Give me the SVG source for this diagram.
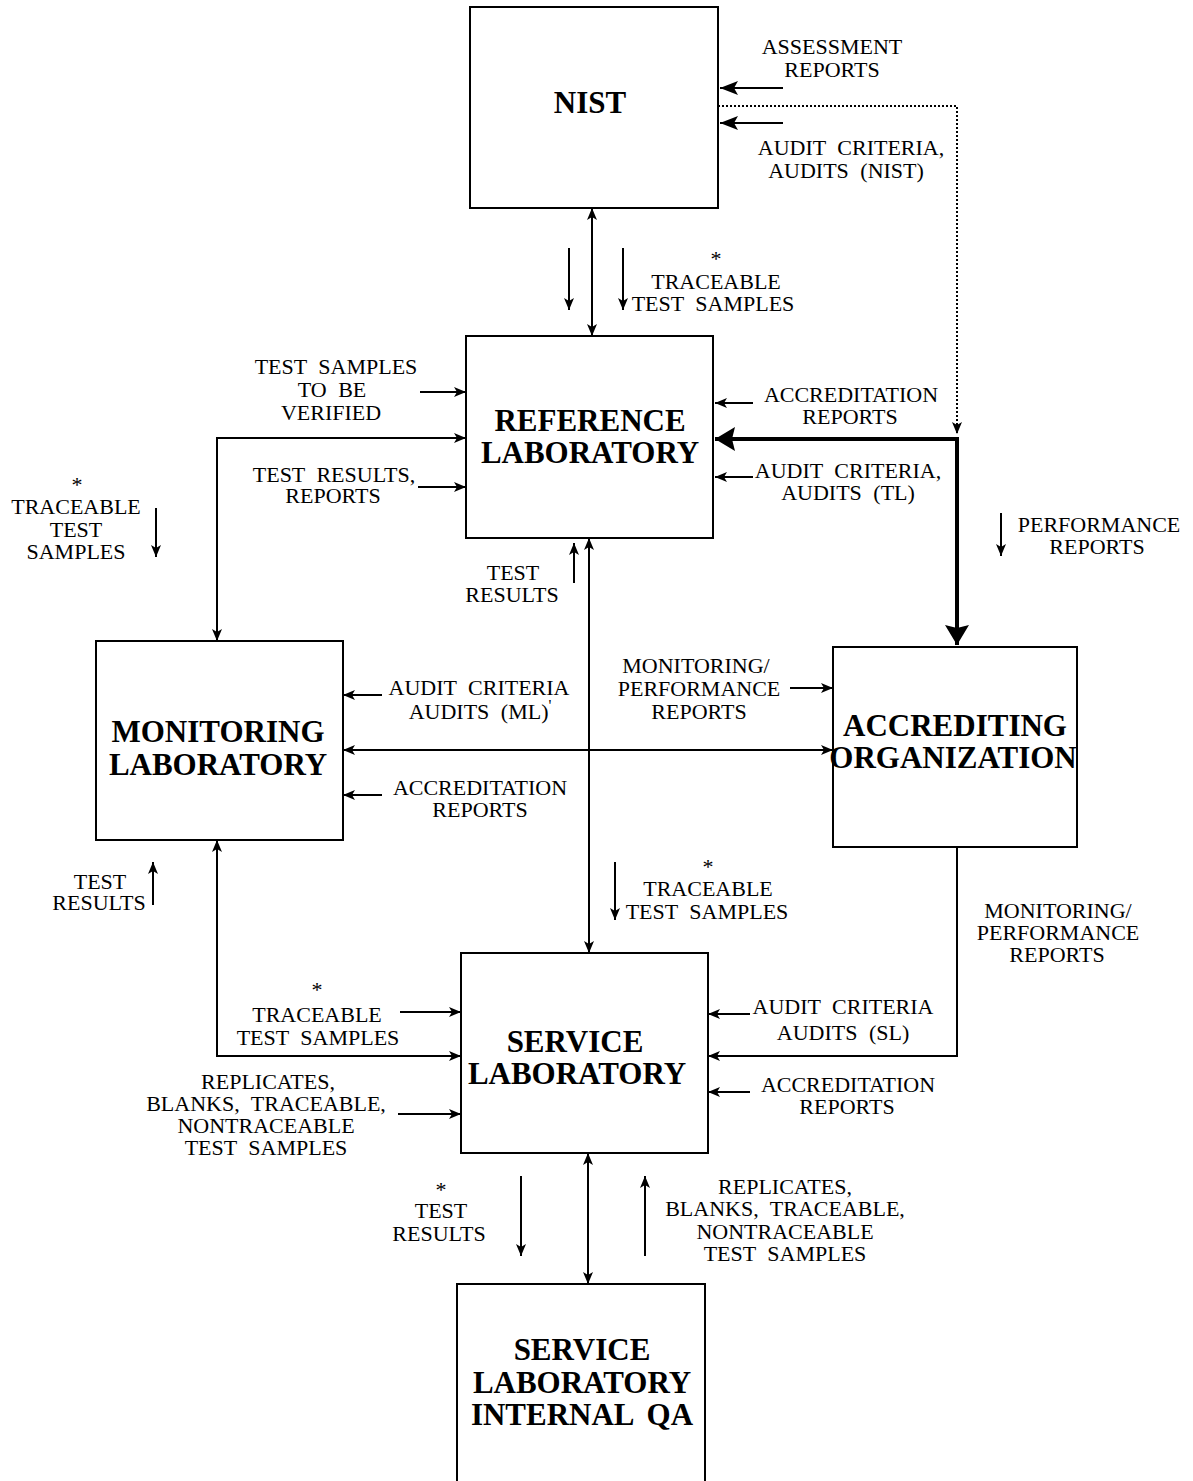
<svg xmlns="http://www.w3.org/2000/svg" width="1193" height="1481" viewBox="0 0 1193 1481">
<style>
.box{fill:#fff;stroke:#000;stroke-width:2}
.ln{fill:none;stroke:#000;stroke-width:2}
.thk{fill:none;stroke:#000;stroke-width:4}
.dot{fill:none;stroke:#000;stroke-width:2;stroke-dasharray:2 2}
.t{font-family:"Liberation Serif","Times New Roman",serif;font-size:22px;text-anchor:middle;word-spacing:6px;fill:#000}
.n{font-family:"Liberation Serif","Times New Roman",serif;font-size:31px;font-weight:bold;text-anchor:middle;fill:#000}
</style>
<defs>
<marker id="a" viewBox="0 0 12 10" refX="12" refY="5" markerWidth="12" markerHeight="10" markerUnits="userSpaceOnUse" orient="auto-start-reverse"><path d="M0,0 L12,5 L0,10 L3,5 Z" fill="#000"/></marker>
<marker id="b" viewBox="0 0 18 14" refX="18" refY="7" markerWidth="18" markerHeight="14" markerUnits="userSpaceOnUse" orient="auto-start-reverse"><path d="M0,0 L18,7 L0,14 L4,7 Z" fill="#000"/></marker>
<marker id="c" viewBox="0 0 20 24" refX="20" refY="12" markerWidth="20" markerHeight="24" markerUnits="userSpaceOnUse" orient="auto-start-reverse"><path d="M0,0 L20,12 L0,24 L3,12 Z" fill="#000"/></marker>
</defs>
<rect width="1193" height="1481" fill="#fff"/>

<g id="connectors">
<line class="ln" x1="783" y1="88" x2="720" y2="88" marker-end="url(#b)"/>
<line class="ln" x1="783" y1="123" x2="720" y2="123" marker-end="url(#b)"/>
<path class="dot" d="M718,106 L957,106 L957,434" marker-end="url(#a)"/>
<path class="thk" d="M715,439 L957,439 L957,645" marker-start="url(#c)" marker-end="url(#c)"/>
<line class="ln" x1="592" y1="208" x2="592" y2="336" marker-start="url(#a)" marker-end="url(#a)"/>
<line class="ln" x1="569" y1="248" x2="569" y2="310" marker-end="url(#a)"/>
<line class="ln" x1="623" y1="248" x2="623" y2="310" marker-end="url(#a)"/>
<line class="ln" x1="420" y1="392" x2="466" y2="392" marker-end="url(#a)"/>
<path class="ln" d="M217,641 L217,438 L466,438" marker-start="url(#a)" marker-end="url(#a)"/>
<line class="ln" x1="418" y1="487" x2="466" y2="487" marker-end="url(#a)"/>
<line class="ln" x1="156" y1="508" x2="156" y2="557" marker-end="url(#a)"/>
<line class="ln" x1="753" y1="403" x2="715" y2="403" marker-end="url(#a)"/>
<line class="ln" x1="753" y1="477" x2="715" y2="477" marker-end="url(#a)"/>
<line class="ln" x1="1001" y1="513" x2="1001" y2="556" marker-end="url(#a)"/>
<line class="ln" x1="574" y1="583" x2="574" y2="543" marker-end="url(#a)"/>
<line class="ln" x1="589" y1="538" x2="589" y2="953" marker-start="url(#a)" marker-end="url(#a)"/>
<line class="ln" x1="615" y1="862" x2="615" y2="920" marker-end="url(#a)"/>
<line class="ln" x1="382" y1="695" x2="343" y2="695" marker-end="url(#a)"/>
<line class="ln" x1="343" y1="750" x2="833" y2="750" marker-start="url(#a)" marker-end="url(#a)"/>
<line class="ln" x1="382" y1="795" x2="343" y2="795" marker-end="url(#a)"/>
<line class="ln" x1="790" y1="688" x2="833" y2="688" marker-end="url(#a)"/>
<line class="ln" x1="153" y1="905" x2="153" y2="862" marker-end="url(#a)"/>
<path class="ln" d="M217,840 L217,1056 L461,1056" marker-start="url(#a)" marker-end="url(#a)"/>
<line class="ln" x1="400" y1="1012" x2="461" y2="1012" marker-end="url(#a)"/>
<line class="ln" x1="398" y1="1114" x2="461" y2="1114" marker-end="url(#a)"/>
<line class="ln" x1="750" y1="1014" x2="708" y2="1014" marker-end="url(#a)"/>
<path class="ln" d="M957,847 L957,1056 L708,1056" marker-end="url(#a)"/>
<line class="ln" x1="750" y1="1092" x2="708" y2="1092" marker-end="url(#a)"/>
<line class="ln" x1="521" y1="1176" x2="521" y2="1256" marker-end="url(#a)"/>
<line class="ln" x1="588" y1="1153" x2="588" y2="1284" marker-start="url(#a)" marker-end="url(#a)"/>
<line class="ln" x1="645" y1="1256" x2="645" y2="1176" marker-end="url(#a)"/>
</g>

<g id="labels">
<text class="t" x="832" y="54">ASSESSMENT</text>
<text class="t" x="832" y="77">REPORTS</text>
<text class="t" x="851" y="155">AUDIT CRITERIA,</text>
<text class="t" x="846" y="178">AUDITS (NIST)</text>
<text class="t" x="716" y="266">*</text>
<text class="t" x="716" y="289">TRACEABLE</text>
<text class="t" x="713" y="311">TEST SAMPLES</text>
<text class="t" x="336" y="374">TEST SAMPLES</text>
<text class="t" x="332" y="397">TO BE</text>
<text class="t" x="331" y="420">VERIFIED</text>
<text class="t" x="334" y="482">TEST RESULTS,</text>
<text class="t" x="333" y="503">REPORTS</text>
<text class="t" x="77" y="492">*</text>
<text class="t" x="76" y="514">TRACEABLE</text>
<text class="t" x="76" y="537">TEST</text>
<text class="t" x="76" y="559">SAMPLES</text>
<text class="t" x="851" y="402">ACCREDITATION</text>
<text class="t" x="850" y="424">REPORTS</text>
<text class="t" x="848" y="478">AUDIT CRITERIA,</text>
<text class="t" x="848" y="500">AUDITS (TL)</text>
<text class="t" x="1099" y="532">PERFORMANCE</text>
<text class="t" x="1097" y="554">REPORTS</text>
<text class="t" x="513" y="580">TEST</text>
<text class="t" x="512" y="602">RESULTS</text>
<text class="t" x="479" y="695">AUDIT CRITERIA</text>
<text class="t" x="480" y="719">AUDITS (ML)<tspan font-size="16" dy="-8">'</tspan></text>
<text class="t" x="480" y="795">ACCREDITATION</text>
<text class="t" x="480" y="817">REPORTS</text>
<text class="t" x="696" y="673">MONITORING/</text>
<text class="t" x="699" y="696">PERFORMANCE</text>
<text class="t" x="699" y="719">REPORTS</text>
<text class="t" x="100" y="889">TEST</text>
<text class="t" x="99" y="910">RESULTS</text>
<text class="t" x="708" y="874">*</text>
<text class="t" x="708" y="896">TRACEABLE</text>
<text class="t" x="707" y="919">TEST SAMPLES</text>
<text class="t" x="1058" y="918">MONITORING/</text>
<text class="t" x="1058" y="940">PERFORMANCE</text>
<text class="t" x="1057" y="962">REPORTS</text>
<text class="t" x="317" y="997">*</text>
<text class="t" x="317" y="1022">TRACEABLE</text>
<text class="t" x="318" y="1045">TEST SAMPLES</text>
<text class="t" x="268" y="1089">REPLICATES,</text>
<text class="t" x="266" y="1111">BLANKS, TRACEABLE,</text>
<text class="t" x="266" y="1133">NONTRACEABLE</text>
<text class="t" x="266" y="1155">TEST SAMPLES</text>
<text class="t" x="843" y="1014">AUDIT CRITERIA</text>
<text class="t" x="843" y="1040">AUDITS (SL)</text>
<text class="t" x="848" y="1092">ACCREDITATION</text>
<text class="t" x="847" y="1114">REPORTS</text>
<text class="t" x="441" y="1197">*</text>
<text class="t" x="441" y="1218">TEST</text>
<text class="t" x="439" y="1241">RESULTS</text>
<text class="t" x="785" y="1194">REPLICATES,</text>
<text class="t" x="785" y="1216">BLANKS, TRACEABLE,</text>
<text class="t" x="785" y="1239">NONTRACEABLE</text>
<text class="t" x="785" y="1261">TEST SAMPLES</text>
</g>

<g id="nist">
<rect class="box" x="470" y="7" width="248" height="201"/>
<text class="n" x="590" y="113">NIST</text>
</g>
<g id="reference-laboratory">
<rect class="box" x="466" y="336" width="247" height="202"/>
<text class="n" x="590" y="431">REFERENCE</text>
<text class="n" x="590" y="463">LABORATORY</text>
</g>
<g id="monitoring-laboratory">
<rect class="box" x="96" y="641" width="247" height="199"/>
<text class="n" x="218" y="742" font-size="29">MONITORING</text>
<text class="n" x="218" y="775" font-size="29">LABORATORY</text>
</g>
<g id="accrediting-organization">
<rect class="box" x="833" y="647" width="244" height="200"/>
<text class="n" x="955" y="736" font-size="30">ACCREDITING</text>
<text class="n" x="953" y="768" font-size="30">ORGANIZATION</text>
</g>
<g id="service-laboratory">
<rect class="box" x="461" y="953" width="247" height="200"/>
<text class="n" x="575" y="1052">SERVICE</text>
<text class="n" x="577" y="1084">LABORATORY</text>
</g>
<g id="service-laboratory-internal-qa">
<rect class="box" x="457" y="1284" width="248" height="215"/>
<text class="n" x="582" y="1360" font-size="30">SERVICE</text>
<text class="n" x="582" y="1393" font-size="30">LABORATORY</text>
<text class="n" x="582" y="1425" font-size="30" word-spacing="6">INTERNAL QA</text>
</g>
</svg>
